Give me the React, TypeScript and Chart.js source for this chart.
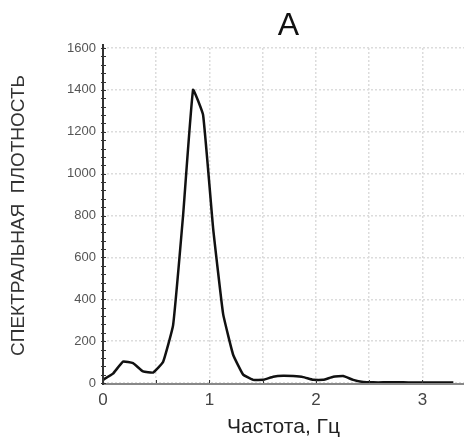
import React, { useEffect, useRef } from "react";
import { Chart, registerables } from "chart.js";

Chart.register(...registerables);

const freqs = [
  0, 0.094, 0.188, 0.282, 0.376, 0.47, 0.564, 0.658, 0.752, 0.846, 0.94, 1.034,
  1.128, 1.222, 1.316, 1.41, 1.504, 1.598, 1.692, 1.786, 1.88, 1.974, 2.068,
  2.162, 2.256, 2.35, 2.444, 2.538, 2.632, 2.726, 2.82, 2.914, 3.008, 3.102,
  3.196, 3.29,
];
const density = [
  15, 45, 102, 95, 55, 50, 100, 275, 800, 1400, 1280, 740, 330, 135, 40, 15,
  15, 30, 35, 33, 28, 15, 15, 30, 33, 15, 5, 3, 3, 3, 3, 2, 2, 2, 2, 2,
];
const xGridValues = [0, 0.5, 1, 1.5, 2, 2.5, 3];
const xTickLabels = ["0", "1", "2", "3"];
const yTickValues = [0, 200, 400, 600, 800, 1000, 1200, 1400, 1600];
const titleText = "A";
const xTitle = "Частота, Гц";
const yTitle = "СПЕКТРАЛЬНАЯ  ПЛОТНОСТЬ";

const extras = {
  id: "extras",
  afterDraw(chart: any) {
    const ctx = chart.ctx;
    const y = chart.scales.y;
    const x = chart.scales.x;
    const ca = chart.chartArea;
    ctx.save();
    // axis lines
    ctx.setLineDash([]);
    ctx.strokeStyle = "#888";
    ctx.lineWidth = 2;
    ctx.beginPath();
    ctx.moveTo(ca.left, ca.bottom + 1);
    ctx.lineTo(chart.width, ca.bottom + 1);
    ctx.stroke();
    ctx.strokeStyle = "#333";
    ctx.beginPath();
    ctx.moveTo(ca.left, ca.top - 4);
    ctx.lineTo(ca.left, ca.bottom + 2);
    ctx.stroke();
    // minor ticks
    ctx.lineWidth = 1;
    for (let v = 0; v <= 1600; v += 40) {
      const py = Math.round(y.getPixelForValue(v)) + 0.5;
      ctx.beginPath();
      ctx.moveTo(x.left - 2, py);
      ctx.lineTo(x.left + 3, py);
      ctx.stroke();
    }
    for (const v of xGridValues) {
      if (v === 0) continue;
      const px = Math.round(x.getPixelForValue(v)) + 0.5;
      ctx.beginPath();
      ctx.moveTo(px, ca.bottom);
      ctx.lineTo(px, ca.bottom - 3);
      ctx.stroke();
    }
    // title
    ctx.fillStyle = "#111";
    ctx.font = "normal 32px 'Liberation Sans', Arial";
    ctx.textAlign = "center";
    ctx.textBaseline = "middle";
    ctx.fillText(titleText, (ca.left + chart.width) / 2 + 5, 26);
    ctx.restore();
  },
};

export default function App() {
  const ref = useRef<HTMLCanvasElement>(null);
  useEffect(() => {
    if (!ref.current) return;
    const chart = new Chart(ref.current, {
      type: "line",
      data: {
        datasets: [
          {
            data: freqs.map((f, i) => ({ x: f, y: density[i] })),
            borderColor: "#111",
            borderWidth: 2.5,
            pointRadius: 0,
            tension: 0.1,
            fill: false,
          },
        ],
      },
      options: {
        animation: false,
        responsive: true,
        maintainAspectRatio: false,
        layout: { autoPadding: false, padding: { top: 48, right: 0, left: 0, bottom: 0 } },
        plugins: {
          legend: { display: false },
          tooltip: { enabled: false },
          title: { display: false },
        },
        scales: {
          x: {
            type: "linear",
            min: 0,
            max: 3.39,
            afterFit: (s: any) => {
              s.height = 58;
            },
            afterBuildTicks: (s: any) => {
              s.ticks = xGridValues.map((v) => ({ value: v }));
            },
            border: { display: false, dash: [2, 2] },
            grid: {
              color: "#dcdcdc",
              lineWidth: 1.5,
              drawTicks: false,
            },
            ticks: {
              padding: 7,
              color: "#444",
              font: { family: "Liberation Sans, Arial", size: 17 },
              maxRotation: 0,
              autoSkip: false,
              callback: (v: any) => {
                const n = Number(v);
                return Number.isInteger(n) ? xTickLabels[n] ?? "" : "";
              },
            },
            title: {
              display: true,
              text: xTitle,
              color: "#222",
              font: { family: "Liberation Sans, Arial", size: 21, lineHeight: 1.2 },
              padding: { top: 0, bottom: 1 },
            },
          },
          y: {
            min: 0,
            max: 1600,
            afterFit: (s: any) => {
              s.width = 103;
            },
            afterBuildTicks: (s: any) => {
              s.ticks = yTickValues.map((v) => ({ value: v }));
            },
            border: { display: false, dash: [2, 2] },
            grid: {
              color: "#dcdcdc",
              lineWidth: 1.5,
              drawTicks: false,
            },
            ticks: {
              padding: 7,
              color: "#555",
              font: { family: "Liberation Sans, Arial", size: 13 },
              callback: (v: any) => String(v),
            },
            title: {
              display: true,
              text: yTitle,
              color: "#333",
              font: { family: "Liberation Sans, Arial", size: 19, lineHeight: 1.2 },
              padding: { top: 7, bottom: 0 },
            },
          },
        },
      },
      plugins: [extras],
    });
    return () => chart.destroy();
  }, []);
  return (
    <div style={{ position: "absolute", left: 0, top: 0, width: 464, height: 441, background: "#fff" }}>
      <canvas ref={ref} />
    </div>
  );
}
